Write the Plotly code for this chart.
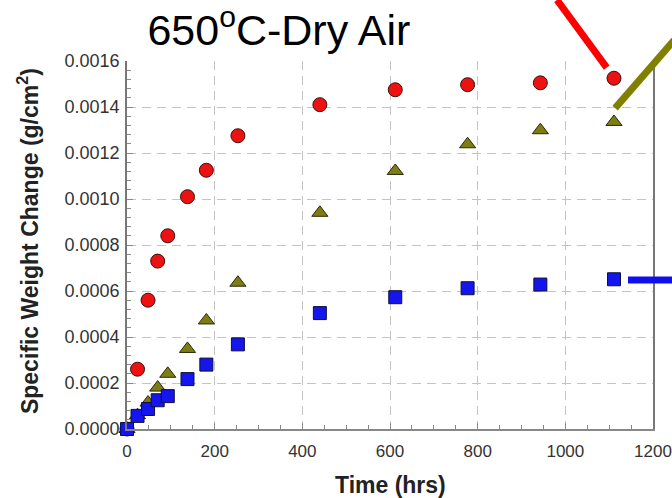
import plotly.graph_objects as go

time_hrs = [0, 24, 48, 70, 93, 138, 181, 253, 440, 612, 777, 943, 1111]
red_series = [0.0, 0.00026, 0.00056, 0.00073, 0.00084, 0.00101, 0.001125, 0.001275, 0.00141, 0.001475, 0.001497, 0.001505, 0.001525]
olive_series = [0.0, 0.00006, 0.000115, 0.00018, 0.00024, 0.000348, 0.000472, 0.000636, 0.00094, 0.001122, 0.001238, 0.001299, 0.001335]
blue_series = [0.0, 0.000057, 0.000087, 0.000125, 0.000143, 0.000217, 0.00028, 0.000368, 0.000504, 0.000573, 0.000612, 0.000628, 0.000651]

x_ticks = [0, 200, 400, 600, 800, 1000, 1200]
y_ticks = [0.0, 0.0002, 0.0004, 0.0006, 0.0008, 0.0010, 0.0012, 0.0014, 0.0016]
y_tick_text = ["0.0000", "0.0002", "0.0004", "0.0006", "0.0008", "0.0010", "0.0012", "0.0014", "0.0016"]

fig = go.Figure()
fig.add_trace(go.Scatter(x=time_hrs, y=red_series, mode="markers",
                         marker=dict(symbol="circle", size=14, color="#ee1111",
                                     line=dict(color="#3a1010", width=1)), cliponaxis=False))
fig.add_trace(go.Scatter(x=time_hrs, y=olive_series, mode="markers",
                         marker=dict(symbol="triangle-up", size=14, color="#7d7d14",
                                     line=dict(color="#2a2a08", width=1)), cliponaxis=False))
fig.add_trace(go.Scatter(x=time_hrs, y=blue_series, mode="markers",
                         marker=dict(symbol="square", size=13, color="#1515ee",
                                     line=dict(color="#10103a", width=1)), cliponaxis=False))

font_family = "Liberation Sans, Arial, sans-serif"
fig.update_layout(
    width=672, height=498,
    margin=dict(l=127, r=19, t=61, b=69, autoexpand=False),
    paper_bgcolor="white", plot_bgcolor="white",
    showlegend=False,
    font=dict(family=font_family, color="#333333"),
    title=dict(text="650<sup>o</sup>C-Dry Air", x=0.415, xanchor="center",
               y=0.94, yanchor="middle", xref="container", yref="container",
               font=dict(family=font_family, size=43, color="black")),
    xaxis=dict(range=[0, 1200], tickvals=x_ticks, showgrid=True, automargin=False,
               gridcolor="#c4c4c4", griddash="9px,6px", gridwidth=1,
               showline=True, linecolor="#888888", linewidth=1.5, mirror=False,
               ticks="inside", ticklen=6, tickcolor="#888888", ticklabelstandoff=6,
               minor=dict(dtick=50, ticks="inside", ticklen=4, tickcolor="#888888", showgrid=False),
               tickfont=dict(size=17, color="#333333"), zeroline=False),
    yaxis=dict(range=[0, 0.0016], tickvals=y_ticks, ticktext=y_tick_text, showgrid=True, automargin=False,
               gridcolor="#c4c4c4", griddash="9px,6px", gridwidth=1,
               showline=True, linecolor="#777777", linewidth=1.5, mirror=True,
               ticks="inside", ticklen=6, tickcolor="#888888", ticklabelstandoff=2,
               minor=dict(dtick=0.00004, ticks="inside", ticklen=4, tickcolor="#888888", showgrid=False),
               tickfont=dict(size=18, color="#333333"), zeroline=False),
    annotations=[
        dict(text="<b>Time (hrs)</b>", xref="paper", yref="paper", x=0.5, y=-0.152,
             xanchor="center", yanchor="middle", showarrow=False,
             font=dict(size=23, color="#222222")),
        dict(text="<b>Specific Weight Change (g/cm<sup>2</sup>)</b>", xref="paper", yref="paper",
             x=-0.188, y=0.511, xanchor="center", yanchor="middle", textangle=-90,
             showarrow=False, font=dict(size=23, color="#222222")),
    ],
)

# pointer lines (annotation strokes) in paper coordinates
fig.add_shape(type="line", xref="paper", yref="paper", x0=0.8175, y0=1.166, x1=0.912, y1=0.982,
              line=dict(color="#ff0000", width=7), layer="above")
fig.add_shape(type="line", xref="paper", yref="paper", x0=1.07, y0=1.106, x1=0.928, y1=0.872,
              line=dict(color="#808000", width=7), layer="above")
fig.add_shape(type="line", xref="paper", yref="paper", x0=0.9525, y0=0.405, x1=1.06, y1=0.405,
              line=dict(color="#1010ee", width=7), layer="above")

fig.write_html("out.html")
